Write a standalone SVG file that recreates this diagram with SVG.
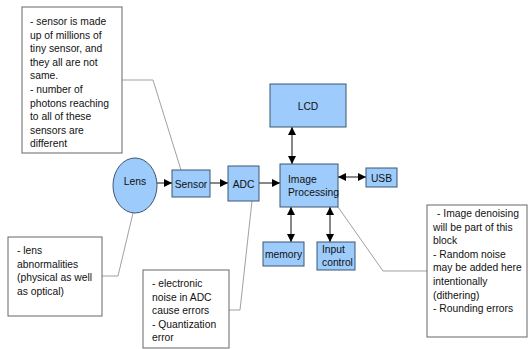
<svg xmlns="http://www.w3.org/2000/svg" width="529" height="349" viewBox="0 0 529 349">
<defs>
<style>
.blk{fill:#9dcbfb;stroke:#3d5670;stroke-width:1}
.note{fill:#fff;stroke:#666;stroke-width:1}
.t{font-family:"Liberation Sans",Arial,sans-serif;font-size:10.3px;fill:#111}
.c{text-anchor:middle}
.call{fill:none;stroke:#888;stroke-width:0.8}
.arr{fill:none;stroke:#111;stroke-width:1}
</style>
<marker id="ah" viewBox="0 0 10 10" refX="10" refY="5" markerWidth="8" markerHeight="9" markerUnits="userSpaceOnUse" orient="auto-start-reverse">
<path d="M0,0 L10,5 L0,10 Z" fill="#000"/>
</marker>
</defs>
<rect width="529" height="349" fill="#fff"/>

<g id="connectors">
<polyline class="call" points="122,80 153,80 181,170"/>
<polyline class="call" points="102,276 118,276 133,213"/>
<polyline class="call" points="229,310 240,310 252,201"/>
<polyline class="call" points="338,207 383,271 427,271"/>
<line class="arr" x1="157" y1="183" x2="172" y2="183" marker-end="url(#ah)"/>
<line class="arr" x1="210" y1="183" x2="228" y2="183" marker-end="url(#ah)"/>
<line class="arr" x1="259" y1="183" x2="280" y2="183" marker-end="url(#ah)"/>
<line class="arr" x1="292" y1="127" x2="292" y2="164" marker-start="url(#ah)" marker-end="url(#ah)"/>
<line class="arr" x1="338" y1="177" x2="366" y2="177" marker-start="url(#ah)" marker-end="url(#ah)"/>
<line class="arr" x1="291" y1="207" x2="291" y2="242" marker-start="url(#ah)" marker-end="url(#ah)"/>
<line class="arr" x1="330" y1="207" x2="330" y2="242" marker-start="url(#ah)" marker-end="url(#ah)"/>
</g>

<g id="note-sensor">
<rect class="note" x="22" y="7" width="100" height="146"/>
<text class="t" x="30" y="25">- sensor is made</text>
<text class="t" x="30" y="38.6">up of millions of</text>
<text class="t" x="30" y="52.2">tiny sensor, and</text>
<text class="t" x="30" y="65.8">they all are not</text>
<text class="t" x="30" y="79.4">same.</text>
<text class="t" x="30" y="93">- number of</text>
<text class="t" x="30" y="106.6">photons reaching</text>
<text class="t" x="30" y="120.2">to all of these</text>
<text class="t" x="30" y="133.8">sensors are</text>
<text class="t" x="30" y="147.4">different</text>
</g>

<g id="lens">
<ellipse class="blk" cx="135" cy="185.5" rx="22" ry="27.5"/>
<text class="t c" x="135" y="185">Lens</text>
</g>

<g id="sensor">
<rect class="blk" x="172" y="170" width="38" height="27"/>
<text class="t c" x="191" y="188">Sensor</text>
</g>

<g id="adc">
<rect class="blk" x="228" y="166" width="31" height="35"/>
<text class="t c" x="243.5" y="188">ADC</text>
</g>

<g id="image-processing">
<rect class="blk" x="280" y="164" width="58" height="43"/>
<text class="t" x="288" y="182.5">Image</text>
<text class="t" x="288" y="196">Processing</text>
</g>

<g id="lcd">
<rect class="blk" x="270" y="84" width="76" height="43"/>
<text class="t c" x="308" y="109.5">LCD</text>
</g>

<g id="usb">
<rect class="blk" x="366" y="168" width="31" height="19"/>
<text class="t c" x="381.5" y="181.5">USB</text>
</g>

<g id="memory">
<rect class="blk" x="263" y="242" width="41" height="24"/>
<text class="t c" x="283.5" y="257.5">memory</text>
</g>

<g id="input-control">
<rect class="blk" x="317" y="242" width="38" height="28"/>
<text class="t" x="322" y="252.5">Input</text>
<text class="t" x="322" y="266">control</text>
</g>

<g id="note-lens">
<rect class="note" x="8" y="237" width="94" height="79"/>
<text class="t" x="17" y="254">- lens</text>
<text class="t" x="17" y="267.6">abnormalities</text>
<text class="t" x="17" y="281.2">(physical as well</text>
<text class="t" x="17" y="294.8">as optical)</text>
</g>

<g id="note-adc">
<rect class="note" x="143" y="270" width="86" height="78"/>
<text class="t" x="152" y="287">- electronic</text>
<text class="t" x="152" y="300.6">noise in ADC</text>
<text class="t" x="152" y="314.2">cause errors</text>
<text class="t" x="152" y="327.8">- Quantization</text>
<text class="t" x="152" y="341.4">error</text>
</g>

<g id="note-ip">
<rect class="note" x="427" y="205" width="100" height="132"/>
<text class="t" x="437" y="217">- Image denoising</text>
<text class="t" x="433" y="230.6">will be part of this</text>
<text class="t" x="433" y="244.2">block</text>
<text class="t" x="433" y="257.8">- Random noise</text>
<text class="t" x="433" y="271.4">may be added here</text>
<text class="t" x="433" y="285">intentionally</text>
<text class="t" x="433" y="298.6">(dithering)</text>
<text class="t" x="433" y="312.2">- Rounding errors</text>
</g>
</svg>
